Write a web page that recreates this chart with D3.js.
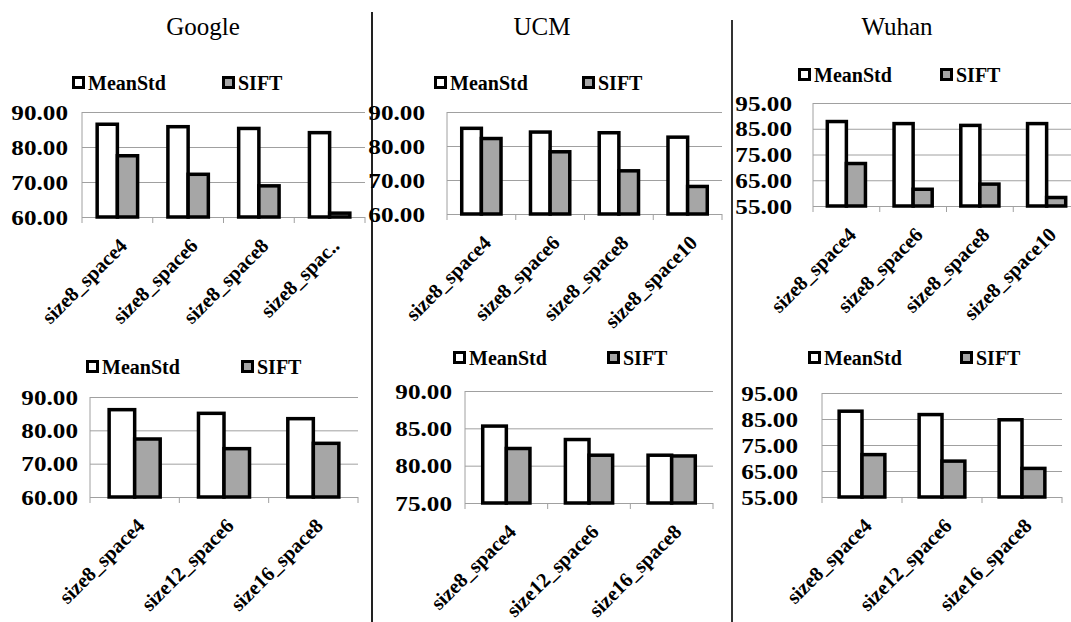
<!DOCTYPE html>
<html>
<head>
<meta charset="utf-8">
<script src="https://cdn.jsdelivr.net/npm/d3@7"></script>
<style>
  body { margin: 0; background: #fff; }
  svg { display: block; font-family: "Liberation Serif", "Times New Roman", serif; }
</style>
</head>
<body>
<svg id="chart" width="1071" height="622"></svg>
<script>
// categories
const topCats4 = ["size8_space4", "size8_space6", "size8_space8", "size8_spac.."];
const topCats = ["size8_space4", "size8_space6", "size8_space8", "size8_space10"];
const bottomCats = ["size8_space4", "size12_space6", "size16_space8"];
const seriesNames = ["MeanStd", "SIFT"];
const datasetTitles = ["Google", "UCM", "Wuhan"];

// values
const googleTopMean = [86.5, 85.8, 85.3, 84.1];
const googleTopSift = [77.5, 72.2, 68.9, 61.1];
const ucmTopMean = [85.2, 84.1, 83.9, 82.6];
const ucmTopSift = [82.2, 78.3, 72.7, 68.1];
const wuhanTopMean = [87.8, 87.0, 86.3, 87.0];
const wuhanTopSift = [71.5, 61.5, 63.5, 58.3];
const googleBotMean = [86.2, 85.1, 83.5];
const googleBotSift = [77.4, 74.5, 76.1];
const ucmBotMean = [85.3, 83.5, 81.4];
const ucmBotSift = [82.3, 81.4, 81.3];
const wuhanBotMean = [88.0, 86.7, 84.7];
const wuhanBotSift = [71.3, 68.8, 66.0];

// tick labels
const ticks60 = [60, 70, 80, 90];
const ticks55 = [55, 65, 75, 85, 95];
const ticks75 = [75, 80, 85, 90];

const colors = { MeanStd: "#ffffff", SIFT: "#a6a6a6" };

const panels = [
  { cats: topCats4, mean: googleTopMean, sift: googleTopSift, ticks: ticks60,
    x: [82, 365], y: [112, 217], gap: 14, legend: { y: 83, x1: 72, x2: 222 } },
  { cats: topCats, mean: ucmTopMean, sift: ucmTopSift, ticks: ticks60,
    x: [447, 722], y: [112, 214], gap: 22, legend: { y: 83, x1: 434, x2: 582 } },
  { cats: topCats, mean: wuhanTopMean, sift: wuhanTopSift, ticks: ticks55,
    x: [813, 1080], y: [103, 206], gap: 21, legend: { y: 75, x1: 798, x2: 940 } },
  { cats: bottomCats, mean: googleBotMean, sift: googleBotSift, ticks: ticks60,
    x: [90, 358], y: [397, 497], gap: 12, legend: { y: 367, x1: 86, x2: 241 } },
  { cats: bottomCats, mean: ucmBotMean, sift: ucmBotSift, ticks: ticks75,
    x: [465, 713], y: [391, 503], gap: 13, legend: { y: 358, x1: 453, x2: 607 } },
  { cats: bottomCats, mean: wuhanBotMean, sift: wuhanBotSift, ticks: ticks55,
    x: [822, 1062], y: [393, 497], gap: 24, legend: { y: 358, x1: 808, x2: 960 } }
];

const svg = d3.select("#chart");

// column titles
const titleX = [203, 542, 897];
svg.selectAll("text.title")
  .data(datasetTitles)
  .enter().append("text")
  .attr("class", "title")
  .attr("x", (d, i) => titleX[i])
  .attr("y", 35)
  .attr("text-anchor", "middle")
  .style("font-size", "25px")
  .text(d => d);

// divider lines
svg.append("line").attr("x1", 372).attr("x2", 372).attr("y1", 12).attr("y2", 622)
  .attr("stroke", "#222").attr("stroke-width", 2);
svg.append("line").attr("x1", 732).attr("x2", 732).attr("y1", 20).attr("y2", 622)
  .attr("stroke", "#333").attr("stroke-width", 2);

panels.forEach(p => {
  const g = svg.append("g");
  const y = d3.scaleLinear()
    .domain([p.ticks[0], p.ticks[p.ticks.length - 1]])
    .range([p.y[1], p.y[0]]);
  const x = d3.scaleBand()
    .domain(p.cats)
    .range(p.x)
    .paddingInner(1.5 / 3.5)
    .paddingOuter(0.75 / 3.5);
  const xs = d3.scaleBand().domain(seriesNames).range([0, x.bandwidth()]);

  // grid
  g.append("g")
    .attr("transform", "translate(" + p.x[0] + ",0)")
    .call(d3.axisLeft(y).tickValues(p.ticks).tickSize(-(p.x[1] - p.x[0])).tickFormat(""))
    .call(a => a.select(".domain").remove())
    .selectAll("line").attr("stroke", "#a0a0a0");

  // vertical axis line
  g.append("line")
    .attr("x1", p.x[0]).attr("x2", p.x[0])
    .attr("y1", y.range()[1]).attr("y2", y.range()[0])
    .attr("stroke", "#a0a0a0");

  // y labels
  const ya = g.append("g")
    .attr("transform", "translate(" + p.x[0] + ",0)")
    .call(d3.axisLeft(y).tickValues(p.ticks).tickSize(0).tickFormat(d3.format(".2f")));
  ya.select(".domain").remove();
  ya.selectAll("text")
    .attr("x", -p.gap / 1.2)
    .attr("dy", "0.34em")
    .attr("transform", "scale(1.2,1)")
    .attr("fill", "#000")
    .style("font-size", "21px")
    .style("font-weight", "bold")
    .style("font-family", "'Liberation Serif', serif");

  // x tick marks at category boundaries
  const bounds = d3.range(p.cats.length + 1).map(i => p.x[0] + i * x.step());
  g.selectAll("line.xt")
    .data(bounds)
    .enter().append("line")
    .attr("class", "xt")
    .attr("x1", d => d).attr("x2", d => d)
    .attr("y1", y.range()[0]).attr("y2", y.range()[0] + 6)
    .attr("stroke", "#a0a0a0");

  // bars
  const rows = p.cats.map((c, i) => ({ cat: c, MeanStd: p.mean[i], SIFT: p.sift[i] }));
  g.selectAll("g.cat")
    .data(rows)
    .enter().append("g")
    .attr("class", "cat")
    .attr("transform", d => "translate(" + x(d.cat) + ",0)")
    .selectAll("rect")
    .data(d => seriesNames.map(s => ({ s: s, v: d[s] })))
    .enter().append("rect")
    .attr("x", d => xs(d.s))
    .attr("y", d => y(d.v))
    .attr("width", xs.bandwidth())
    .attr("height", d => y.range()[0] - y(d.v))
    .attr("fill", d => colors[d.s])
    .attr("stroke", "#000")
    .attr("stroke-width", 3.5);

  // x labels
  const xa = g.append("g")
    .attr("transform", "translate(0," + y.range()[0] + ")")
    .call(d3.axisBottom(x).tickSize(0));
  xa.select(".domain").remove();
  xa.selectAll("text")
    .attr("x", 0).attr("y", 0).attr("dy", null)
    .attr("text-anchor", "end")
    .attr("transform", "translate(11,30) rotate(-45)")
    .attr("fill", "#000")
    .style("font-size", "20.5px")
    .style("font-weight", "bold")
    .style("font-family", "'Liberation Serif', serif");

  // legend
  const lg = g.append("g");
  [p.legend.x1, p.legend.x2].forEach((lx, i) => {
    lg.append("rect")
      .attr("x", lx + 1.5).attr("y", p.legend.y - 5.5)
      .attr("width", 10).attr("height", 10)
      .attr("fill", colors[seriesNames[i]])
      .attr("stroke", "#000").attr("stroke-width", 3);
    lg.append("text")
      .attr("x", lx + 16).attr("y", p.legend.y + 6.5)
      .style("font-size", "20px")
      .style("font-weight", "bold")
      .text(seriesNames[i]);
  });
});
</script>
</body>
</html>
